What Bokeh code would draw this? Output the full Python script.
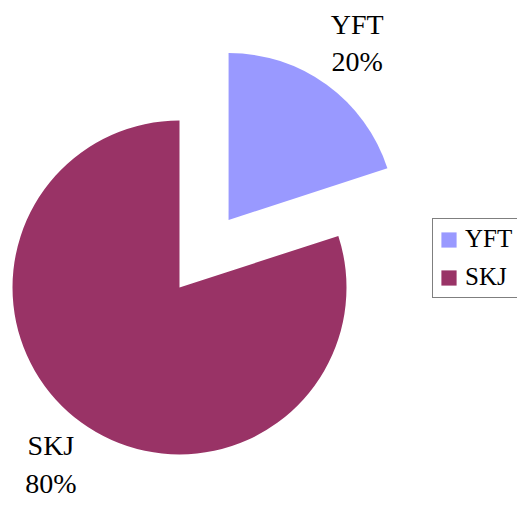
import math
from bokeh.plotting import figure
from bokeh.models import Range1d, Legend, LegendItem
from bokeh.core.properties import value
from bokeh.embed import file_html
from bokeh.resources import INLINE

species = ["YFT", "SKJ"]
shares = [20, 80]
colors = ["#9999FF", "#993366"]
explode = [0.5, 0.0]

W, H = 517, 498
p = figure(width=W, height=H, output_backend="svg", toolbar_location=None,
           x_range=Range1d(0, W), y_range=Range1d(-H, 0),
           min_border=0)
p.axis.visible = False
p.grid.visible = False
p.outline_line_color = None

cx, cy, r = 179, -287, 167
total = sum(shares)
start = 90.0
items = []
font = value("Liberation Serif")
for name, s, c, ex in zip(species, shares, colors, explode):
    sweep = 360.0 * s / total
    end = start
    beg = start - sweep
    mid = math.radians((beg + end) / 2)
    ox = cx + ex * r * math.cos(mid)
    oy = cy + ex * r * math.sin(mid)
    rend = p.wedge(x=[ox], y=[oy], radius=r, start_angle=[beg], end_angle=[end],
                   start_angle_units="deg", end_angle_units="deg",
                   fill_color=c, line_color=None)
    items.append(LegendItem(label=name, renderers=[rend]))
    lx = ox + 1.31 * r * math.cos(mid)
    ly = oy + 1.31 * r * math.sin(mid)
    p.text(x=[lx], y=[ly], text=[f"{name}\n{s}%"], text_font=font,
           text_font_size="28px", text_align="center", text_baseline="middle",
           text_line_height=1.2, text_color="#000000")
    start = beg

legend = Legend(items=items, location=(432, 200), orientation="vertical",
                label_text_font="Liberation Serif", label_text_font_size="25px",
                label_text_color="#000000",
                glyph_width=19, glyph_height=19, label_height=26,
                spacing=10, padding=6, margin=0, label_standoff=7,
                border_line_color="#000000", border_line_width=1,
                background_fill_alpha=1)
p.add_layout(legend, "center")

open("out.html", "w").write(file_html(p, INLINE))
